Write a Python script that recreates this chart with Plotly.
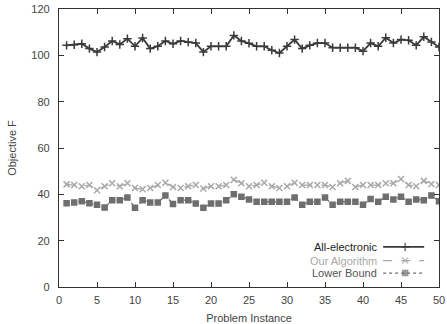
import plotly.graph_objects as go

# Problem instances 1..50
instances = list(range(1, 51))

all_electronic = [
    104.3, 104.6, 105.0, 102.9, 101.4, 103.6, 106.2, 104.7, 107.2, 103.9,
    107.5, 102.9, 103.9, 106.2, 105.0, 106.2, 105.7, 105.3, 101.4, 103.9,
    103.9, 103.9, 108.6, 106.2, 105.2, 103.9, 103.9, 102.2, 101.0, 103.9,
    106.8, 102.9, 104.3, 105.3, 105.3, 103.3, 103.3, 103.3, 103.3, 101.8,
    105.3, 103.9, 107.6, 105.3, 106.8, 106.5, 104.3, 108.0, 105.8, 103.6,
]

our_algorithm = [
    44.3, 44.0, 43.5, 44.0, 41.8, 43.5, 44.8, 43.5, 44.8, 42.7,
    42.2, 42.7, 44.0, 45.0, 43.2, 42.7, 43.5, 44.0, 42.5, 43.5,
    43.5, 44.0, 46.3, 44.8, 43.5, 44.0, 45.0, 43.5, 42.7, 43.5,
    45.0, 44.0, 44.0, 44.0, 44.0, 43.2, 44.8, 45.8, 43.2, 44.0,
    44.0, 44.0, 44.8, 44.8, 46.6, 44.0, 43.5, 45.8, 44.5, 44.0,
]

lower_bound = [
    36.1, 36.5, 37.0, 36.1, 35.5, 34.3, 37.5, 37.5, 38.6, 34.2,
    37.5, 36.5, 36.5, 39.5, 35.8, 37.5, 37.5, 36.0, 34.2, 36.0,
    36.0, 37.5, 40.0, 39.0, 37.8, 36.8, 36.8, 36.8, 36.8, 36.8,
    38.6, 35.5, 36.8, 36.8, 38.6, 35.5, 36.8, 36.8, 36.8, 35.5,
    38.0, 36.8, 39.0, 37.8, 39.0, 36.8, 37.8, 37.5, 39.5, 37.0,
]

x_ticks = list(range(0, 51, 5))
y_ticks = list(range(0, 121, 20))

series_names = ["All-electronic", "Our Algorithm", "Lower Bound"]
series_colors = ["#3a3a3a", "#a8a8a8", "#6e6e6e"]
series_dash = ["solid", "dash", "dot"]
series_symbols = ["cross-thin-open", "x-thin-open", "square"]
series_widths = [1.8, 1.3, 1.3]
series_values = [all_electronic, our_algorithm, lower_bound]

FONT = "Liberation Sans, Arial, sans-serif"

fig = go.Figure()

for name, vals, col, dash, sym, lw in zip(series_names, series_values, series_colors,
                                           series_dash, series_symbols, series_widths):
    filled = sym == "square"
    fig.add_trace(go.Scatter(
        x=instances, y=vals, name=name, mode="lines+markers",
        line=dict(color=col, width=lw, dash=dash),
        marker=dict(symbol=sym, size=6 if not filled else 5, color=col,
                    line=dict(color=col, width=1.5)),
        showlegend=False,
    ))

# Key box in the lower right corner: right-aligned labels, line sample to the right
key_y = [0.144, 0.095, 0.050]
key_x0, key_xm, key_x1 = 0.853, 0.911, 0.961
label_colors = ["#222222", "#a8a8a8", "#555555"]
for name, col, dash, sym, lw, ky, lc in zip(series_names, series_colors, series_dash,
                                            series_symbols, series_widths, key_y, label_colors):
    filled = sym == "square"
    fig.add_trace(go.Scatter(
        x=[key_x0, key_xm, key_x1], y=[ky, ky, ky], xaxis="x2", yaxis="y2",
        mode="lines+markers",
        line=dict(color=col, width=lw, dash=dash),
        marker=dict(symbol=sym, size=[0, 6 if not filled else 5, 0], color=col,
                    line=dict(color=col, width=1.5)),
        showlegend=False, hoverinfo="skip",
    ))
    fig.add_annotation(
        x=0.842, y=ky, xref="paper", yref="paper", text=name, showarrow=False,
        xanchor="right", yanchor="middle", font=dict(family=FONT, size=11, color=lc),
    )

axis_common = dict(
    showline=True, linecolor="#333333", linewidth=1.3, mirror="allticks",
    ticks="inside", ticklen=5, tickcolor="#333333", tickwidth=1,
    showgrid=False, zeroline=False, automargin=False,
    tickfont=dict(family=FONT, size=11, color="#444444"),
)

fig.update_layout(
    width=447, height=324,
    margin=dict(l=59, r=8, t=9, b=37),
    paper_bgcolor="white", plot_bgcolor="white",
    xaxis=dict(range=[0, 50], tickvals=x_ticks, ticklabelstandoff=3,
               title=dict(text="Problem Instance", font=dict(family=FONT, size=11, color="#444444"),
                          standoff=8),
               **axis_common),
    yaxis=dict(range=[0, 120], tickvals=y_ticks, ticklabelstandoff=6,
               title=dict(text="Objective F", font=dict(family=FONT, size=11, color="#444444"),
                          standoff=12),
               **axis_common),
    xaxis2=dict(range=[0, 1], overlaying="x", visible=False),
    yaxis2=dict(range=[0, 1], overlaying="y", visible=False),
)

fig.write_html("out.html")
